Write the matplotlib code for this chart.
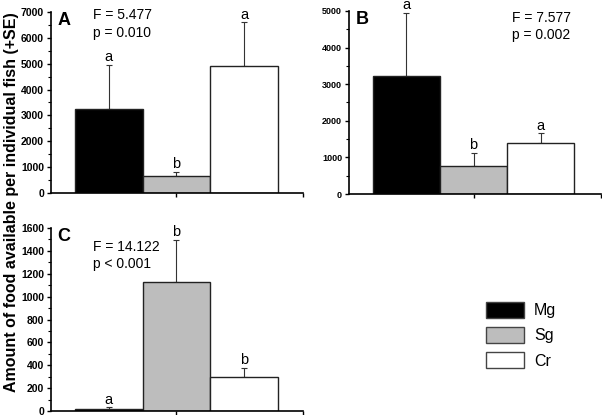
import matplotlib
matplotlib.use('Agg')
import matplotlib.pyplot as plt
from matplotlib.patches import Patch
from matplotlib.ticker import MultipleLocator
import numpy as np

plt.rcParams['font.family'] = ['Liberation Sans', 'DejaVu Sans']

groups = ['Mg', 'Sg', 'Cr']
colors = ['black', '#bdbdbd', 'white']

a_vals = [3230, 660, 4900]
a_err = [1720, 165, 1700]
a_letters = ['a', 'b', 'a']

b_vals = [3230, 760, 1380]
b_err = [1725, 365, 280]
b_letters = ['a', 'b', 'a']

c_vals = [20, 1128, 298]
c_err = [12, 370, 78]
c_letters = ['a', 'b', 'b']

W, H = 602, 415


def box(l, t, r, b):
    return [l / W, 1 - b / H, (r - l) / W, (b - t) / H]


def panel(ax, vals, err, letters, ymax, major, xlim, tag, stats, sx, sy, tsize):
    x = np.arange(3)
    ax.bar(x, vals, width=1.0, color=colors, edgecolor='#222222', linewidth=1.0, zorder=2)
    ax.errorbar(x, vals, yerr=[np.zeros(3), err], fmt='none', ecolor='#333333',
                elinewidth=0.8, capsize=2, capthick=0.8, zorder=1)
    for xi, v, e, lab in zip(x, vals, err, letters):
        ax.annotate(lab, (xi, v + e), xytext=(0, 0.5), textcoords='offset points',
                    ha='center', va='bottom', fontsize=10.5)
    ax.set_xlim(*xlim)
    ax.set_ylim(0, ymax)
    ax.yaxis.set_major_locator(MultipleLocator(major))
    ax.yaxis.set_minor_locator(MultipleLocator(major / 2))
    ax.set_xticks([1, xlim[1]])
    ax.set_xticklabels([])
    ax.tick_params(axis='x', length=3, width=1)
    ax.tick_params(axis='y', which='major', length=3, width=1, labelsize=tsize, pad=2)
    ax.tick_params(axis='y', which='minor', length=2, width=0.8)
    for lb in ax.get_yticklabels():
        lb.set_fontweight('bold')
    ax.spines['top'].set_visible(False)
    ax.spines['right'].set_visible(False)
    ax.spines['left'].set_linewidth(1.2)
    ax.spines['bottom'].set_linewidth(1.2)
    ax.text(0.025, 1.0, tag, transform=ax.transAxes, fontsize=13, fontweight='bold',
            va='top', ha='left')
    ax.text(sx, sy, stats, transform=ax.transAxes, fontsize=10, va='top', ha='left',
            linespacing=1.3)


fig = plt.figure(figsize=(6.02, 4.15), dpi=100)

ax1 = fig.add_axes(box(51, 12, 303, 193))
panel(ax1, a_vals, a_err, a_letters, 7000, 1000, (-0.855, 2.87), 'A',
      'F = 5.477\np = 0.010', 0.165, 1.02, 7.5)

ax2 = fig.add_axes(box(349, 11, 601, 194))
panel(ax2, b_vals, b_err, b_letters, 5000, 1000, (-0.857, 2.9), 'B',
      'F = 7.577\np = 0.002', 0.645, 1.0, 6.5)

ax3 = fig.add_axes(box(51, 228, 303, 411))
panel(ax3, c_vals, c_err, c_letters, 1600, 200, (-0.855, 2.87), 'C',
      'F = 14.122\np < 0.001', 0.165, 0.935, 7.5)

fig.text(12 / W, 1 - 202 / H, 'Amount of food available per individual fish (+SE)',
         rotation=90, ha='center', va='center', fontsize=11.5, fontweight='bold')

handles = [Patch(facecolor=c, edgecolor='#444444', linewidth=1.0) for c in colors]
fig.legend(handles, groups, loc='upper left', bbox_to_anchor=(486 / W, 1 - 302 / H),
           frameon=False, fontsize=11.5, handlelength=2.4, handleheight=1.15,
           labelspacing=0.55, borderpad=0, borderaxespad=0, handletextpad=0.6)

fig.savefig('out.png', dpi=100)
